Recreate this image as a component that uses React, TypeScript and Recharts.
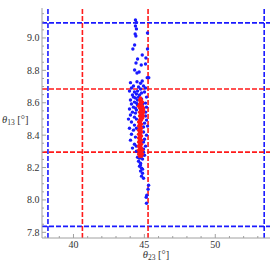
import { ScatterChart, Scatter, XAxis, YAxis, ReferenceLine } from 'recharts';

const FONT = '"Liberation Serif", "DejaVu Serif", serif';
const FRAME = '#a0a0a0';
const TEXT = '#333333';
const BLUE = '#1a1aff';
const RED = '#ff1a1a';

// axis ranges and ticks
const theta23Domain = [37.78, 53.86];
const theta13Domain = [7.765, 9.185];
const theta23Ticks = [38, 39, 40, 41, 42, 43, 44, 45, 46, 47, 48, 49, 50, 51, 52, 53];
const theta23Major = [40, 45, 50];
const theta13Ticks = [
  7.8, 7.85, 7.9, 7.95, 8.0, 8.05, 8.1, 8.15, 8.2, 8.25, 8.3, 8.35, 8.4, 8.45,
  8.5, 8.55, 8.6, 8.65, 8.7, 8.75, 8.8, 8.85, 8.9, 8.95, 9.0, 9.05, 9.1, 9.15,
];
const theta13Major = [7.8, 8.0, 8.2, 8.4, 8.6, 8.8, 9.0];

// allowed regions (blue = 3 sigma, red = 1 sigma)
const theta23Blue = [38.2, 53.45];
const theta23Red = [40.63, 45.26];
const theta13Blue = [7.837, 9.093];
const theta13Red = [8.295, 8.685];

// [theta23, theta13]
const bluePoints: [number, number][] = [
  [44.37, 9.111], [44.44, 9.096], [44.37, 9.074], [44.44, 9.056], [45.22, 9.031],
  [44.35, 9.025], [44.40, 9.012], [44.31, 8.957], [44.19, 8.932], [45.22, 8.932],
  [44.85, 8.895], [44.52, 8.870], [45.11, 8.876], [44.41, 8.845], [45.08, 8.839],
  [44.78, 8.833], [44.31, 8.802], [44.63, 8.790], [44.48, 8.784], [45.20, 8.755],
  [45.31, 8.755], [44.02, 8.724], [44.48, 8.730], [44.85, 8.734], [44.73, 8.720],
  [44.23, 8.703], [44.59, 8.697], [44.94, 8.703], [44.09, 8.691], [44.73, 8.685],
  [45.08, 8.691], [43.95, 8.672], [44.30, 8.666], [44.52, 8.672], [44.80, 8.660],
  [45.01, 8.666], [44.44, 8.654], [44.66, 8.648], [44.16, 8.648], [44.23, 8.635],
  [44.37, 8.629], [44.59, 8.635], [44.80, 8.623], [45.15, 8.635], [44.02, 8.617],
  [44.52, 8.617], [44.30, 8.604], [44.44, 8.598], [44.87, 8.592], [44.09, 8.592],
  [44.52, 8.586], [45.08, 8.598], [44.23, 8.573], [44.37, 8.567], [44.94, 8.561],
  [43.95, 8.561], [44.44, 8.555], [45.15, 8.573], [44.16, 8.542], [44.37, 8.536],
  [45.08, 8.542], [44.02, 8.524], [45.08, 8.518], [44.30, 8.511], [44.44, 8.499],
  [43.88, 8.499], [45.15, 8.493], [44.09, 8.481], [45.01, 8.474], [44.30, 8.462],
  [44.94, 8.450], [43.95, 8.443], [45.22, 8.456], [44.23, 8.431], [44.44, 8.443],
  [44.94, 8.419], [44.09, 8.406], [45.15, 8.400], [44.37, 8.388], [45.01, 8.375],
  [44.02, 8.369], [44.94, 8.357], [44.30, 8.344], [45.08, 8.332], [44.16, 8.320],
  [44.94, 8.314], [44.44, 8.332], [44.44, 8.301], [44.94, 8.295], [45.01, 8.276],
  [44.52, 8.264], [44.80, 8.270], [44.66, 8.258], [44.87, 8.252], [44.59, 8.239],
  [44.73, 8.227], [44.66, 8.208], [44.80, 8.196], [44.73, 8.178], [44.87, 8.165],
  [44.80, 8.147], [44.94, 8.134], [44.73, 8.215], [44.87, 8.190], [45.30, 8.091],
  [45.26, 8.066], [45.17, 8.029], [45.13, 8.017], [45.15, 7.980],
];

const redPoints: [number, number][] = [
  [44.73, 8.629], [44.66, 8.617], [44.80, 8.617], [44.73, 8.604], [44.87, 8.604],
  [44.66, 8.592], [44.80, 8.592], [44.59, 8.579], [44.73, 8.579], [44.87, 8.579],
  [44.66, 8.567], [44.80, 8.567], [44.94, 8.567], [44.73, 8.555], [44.87, 8.555],
  [44.94, 8.555], [44.66, 8.542], [44.80, 8.542], [44.94, 8.542], [44.73, 8.530],
  [44.87, 8.530], [44.66, 8.518], [44.80, 8.518], [44.94, 8.518], [44.73, 8.505],
  [44.87, 8.505], [44.66, 8.493], [44.80, 8.493], [44.59, 8.481], [44.73, 8.481],
  [44.66, 8.468], [44.80, 8.468], [44.59, 8.456], [44.73, 8.456], [44.66, 8.443],
  [44.80, 8.443], [44.59, 8.431], [44.73, 8.431], [44.66, 8.419], [44.80, 8.419],
  [44.59, 8.406], [44.73, 8.406], [44.66, 8.394], [44.80, 8.394], [44.59, 8.382],
  [44.73, 8.382], [44.66, 8.369], [44.80, 8.369], [44.59, 8.357], [44.73, 8.357],
  [44.66, 8.344], [44.80, 8.344], [44.59, 8.332], [44.73, 8.332], [44.66, 8.320],
  [44.80, 8.320], [44.59, 8.307], [44.73, 8.307], [44.87, 8.307], [44.66, 8.295],
  [44.80, 8.295], [44.59, 8.283], [44.73, 8.283], [44.87, 8.283], [44.66, 8.270],
  [44.80, 8.270],
];

const blueData = bluePoints.map(([x, y]) => ({ x, y }));
const redData = redPoints.map(([x, y]) => ({ x, y }));

const isMajor = (v: number, majors: number[]) => majors.some((m) => Math.abs(m - v) < 1e-6);

const BottomTick = ({ x, y, payload }: any) => {
  const major = isMajor(payload.value, theta23Major);
  return (
    <g>
      <line x1={x} x2={x} y1={y} y2={y - (major ? 4 : 2)} stroke={FRAME} />
      {major && (
        <text x={x} y={y + 9.5} textAnchor="middle" fontFamily={FONT} fontSize={10} fill={TEXT}>
          {payload.value}
        </text>
      )}
    </g>
  );
};

const TopTick = ({ x, y, payload }: any) => {
  const major = isMajor(payload.value, theta23Major);
  return <line x1={x} x2={x} y1={y} y2={y + (major ? 4 : 2)} stroke={FRAME} />;
};

const LeftTick = ({ x, y, payload }: any) => {
  const major = isMajor(payload.value, theta13Major);
  return (
    <g>
      <line x1={x} x2={x + (major ? 4 : 2)} y1={y} y2={y} stroke={FRAME} />
      {major && (
        <text x={x - 2.5} y={y + 3.5} textAnchor="end" fontFamily={FONT} fontSize={10} fill={TEXT}>
          {payload.value.toFixed(1)}
        </text>
      )}
    </g>
  );
};

const RightTick = ({ x, y, payload }: any) => {
  const major = isMajor(payload.value, theta13Major);
  return <line x1={x} x2={x - (major ? 4 : 2)} y1={y} y2={y} stroke={FRAME} />;
};

const AxisTitle = ({ viewBox, sub, horizontal }: any) => {
  const tx = horizontal ? viewBox.x + viewBox.width / 2 : viewBox.x + 2;
  const ty = horizontal ? viewBox.y + 19.5 : viewBox.y + viewBox.height / 2;
  return (
    <text x={tx} y={ty} textAnchor={horizontal ? 'middle' : 'start'} fontFamily={FONT} fontSize={10.5} fill={TEXT}>
      <tspan fontStyle="italic">θ</tspan>
      <tspan fontSize={7.5} dy={2}>{sub}</tspan>
      <tspan dy={-2}> [°]</tspan>
    </text>
  );
};

const dot = (color: string) => (p: any) => <circle cx={p.cx} cy={p.cy} r={1.7} fill={color} />;

export default function App() {
  return (
    <div style={{ position: 'absolute', left: 0, top: 0, width: 272, height: 272, background: '#fff' }}>
      <ScatterChart width={272} height={272} margin={{ top: 8, right: 2, bottom: 0, left: 0 }}>
        <XAxis
          xAxisId={0}
          dataKey="x"
          type="number"
          domain={theta23Domain}
          allowDataOverflow
          ticks={theta23Ticks}
          interval={0}
          height={34}
          tickSize={0}
          tickMargin={0}
          tickLine={false}
          axisLine={{ stroke: FRAME }}
          tick={BottomTick}
          label={{ content: (p: any) => <AxisTitle {...p} sub="23" horizontal /> }}
        />
        <XAxis
          xAxisId="top"
          orientation="top"
          type="number"
          domain={theta23Domain}
          allowDataOverflow
          ticks={theta23Ticks}
          interval={0}
          height={0}
          tickSize={0}
          tickMargin={0}
          tickLine={false}
          axisLine={{ stroke: FRAME }}
          tick={TopTick}
        />
        <YAxis
          yAxisId={0}
          dataKey="y"
          type="number"
          domain={theta13Domain}
          allowDataOverflow
          ticks={theta13Ticks}
          interval={0}
          width={42}
          tickSize={0}
          tickMargin={0}
          tickLine={false}
          axisLine={{ stroke: FRAME }}
          tick={LeftTick}
          label={{ content: (p: any) => <AxisTitle {...p} sub="13" /> }}
        />
        <YAxis
          yAxisId="right"
          orientation="right"
          type="number"
          domain={theta13Domain}
          allowDataOverflow
          ticks={theta13Ticks}
          interval={0}
          width={0}
          tickSize={0}
          tickMargin={0}
          tickLine={false}
          axisLine={{ stroke: FRAME }}
          tick={RightTick}
        />
        {theta23Blue.map((v) => (
          <ReferenceLine key={'bx' + v} x={v} stroke={BLUE} strokeWidth={1.6} strokeDasharray="5 2" />
        ))}
        {theta13Blue.map((v) => (
          <ReferenceLine key={'by' + v} y={v} stroke={BLUE} strokeWidth={1.6} strokeDasharray="5 2" />
        ))}
        {theta23Red.map((v) => (
          <ReferenceLine key={'rx' + v} x={v} stroke={RED} strokeWidth={1.6} strokeDasharray="5 2" />
        ))}
        {theta13Red.map((v) => (
          <ReferenceLine key={'ry' + v} y={v} stroke={RED} strokeWidth={1.6} strokeDasharray="5 2" />
        ))}
        <Scatter data={blueData} fill={BLUE} shape={dot(BLUE)} isAnimationActive={false} />
        <Scatter data={redData} fill={RED} shape={dot(RED)} isAnimationActive={false} />
      </ScatterChart>
    </div>
  );
}
